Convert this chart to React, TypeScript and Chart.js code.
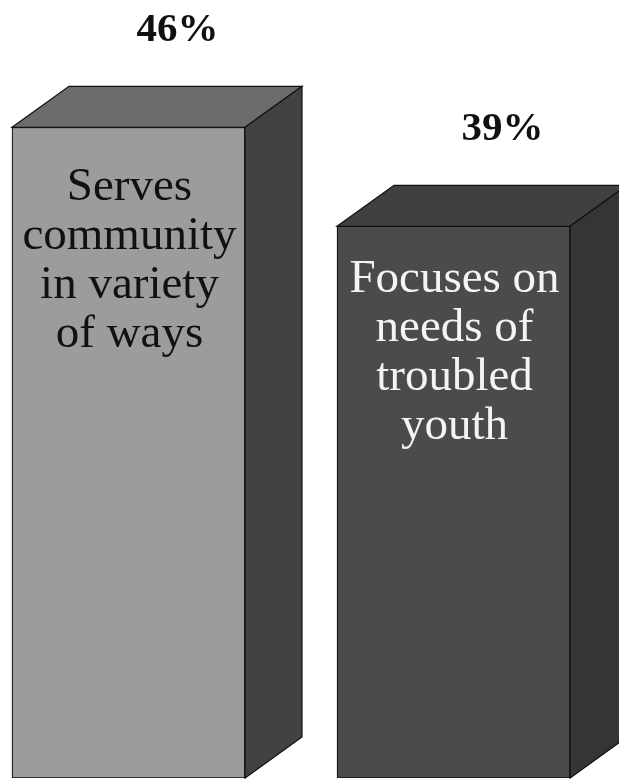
import React, { useEffect, useRef } from "react";
import { Chart, registerables } from "chart.js";

Chart.register(...registerables);

const categories = [
  ["Serves", "community", "in variety", "of ways"],
  ["Focuses on", "needs of", "troubled", "youth"],
];
const positions = [0, 1];
const values = [46, 39];
const valueLabels = ["46%", "39%"];
const frontColors = ["#9c9c9c", "#4b4b4b"];
const topColors = ["#6c6c6c", "#404040"];
const sideColors = ["#424242", "#353535"];
const textColors = ["#111111", "#f4f4f4"];

const DX = 57;
const DY = -41;

const bar3dPlugin = {
  id: "bar3d",
  afterDatasetsDraw(chart: any) {
    const ctx = chart.ctx;
    const meta = chart.getDatasetMeta(0);
    meta.data.forEach((bar: any, i: number) => {
      const { x, y, base, width } = bar.getProps(["x", "y", "base", "width"], true);
      const l = x - width / 2;
      const r = x + width / 2;
      ctx.save();
      ctx.lineWidth = 1.2;
      ctx.strokeStyle = "#111";
      // top face
      ctx.beginPath();
      ctx.moveTo(l, y);
      ctx.lineTo(l + DX, y + DY);
      ctx.lineTo(r + DX, y + DY);
      ctx.lineTo(r, y);
      ctx.closePath();
      ctx.fillStyle = topColors[i];
      ctx.fill();
      ctx.stroke();
      // side face
      ctx.beginPath();
      ctx.moveTo(r, y);
      ctx.lineTo(r + DX, y + DY);
      ctx.lineTo(r + DX, base + DY);
      ctx.lineTo(r, base);
      ctx.closePath();
      ctx.fillStyle = sideColors[i];
      ctx.fill();
      ctx.stroke();
      // value label
      ctx.fillStyle = "#111";
      ctx.font = "bold 41px 'Liberation Serif', 'Times New Roman', serif";
      ctx.textAlign = "center";
      ctx.textBaseline = "middle";
      ctx.fillText(valueLabels[i], x + 49, y - 97);
      // category text inside bar
      ctx.fillStyle = textColors[i];
      ctx.font = "47px 'Liberation Serif', 'Times New Roman', serif";
      ctx.textBaseline = "alphabetic";
      const firstBase = i === 0 ? 73 : 66;
      categories[i].forEach((line, j) => {
        ctx.fillText(line, x + 1, y + firstBase + j * 49);
      });
      ctx.restore();
    });
  },
};

export default function App() {
  const ref = useRef<HTMLCanvasElement | null>(null);
  useEffect(() => {
    if (!ref.current) return;
    const pxPerUnit = 325;
    const xMin = -128.5 / pxPerUnit;
    const xMax = xMin + 619 / pxPerUnit;
    const chart = new Chart(ref.current, {
      type: "bar",
      data: {
        datasets: [
          {
            data: positions.map((p, i) => ({ x: p, y: values[i] })),
            backgroundColor: frontColors,
            borderColor: "#111",
            borderWidth: 1.2,
            borderSkipped: false,
            barThickness: 233,
          },
        ],
      },
      options: {
        responsive: false,
        animation: false,
        maintainAspectRatio: false,
        layout: { padding: { left: 0, right: 0, top: 0, bottom: 2 } },
        plugins: { legend: { display: false }, tooltip: { enabled: false } },
        scales: {
          x: { type: "linear", min: xMin, max: xMax, offset: false, display: false },
          y: { min: 0, max: 55, display: false },
        },
      },
      plugins: [bar3dPlugin],
    });
    return () => chart.destroy();
  }, []);
  return (
    <div style={{ position: "fixed", left: 0, top: 0, width: 619, height: 780, background: "#fff", overflow: "hidden" }}>
      <canvas ref={ref} width={619} height={780} style={{ display: "block" }} />
    </div>
  );
}
